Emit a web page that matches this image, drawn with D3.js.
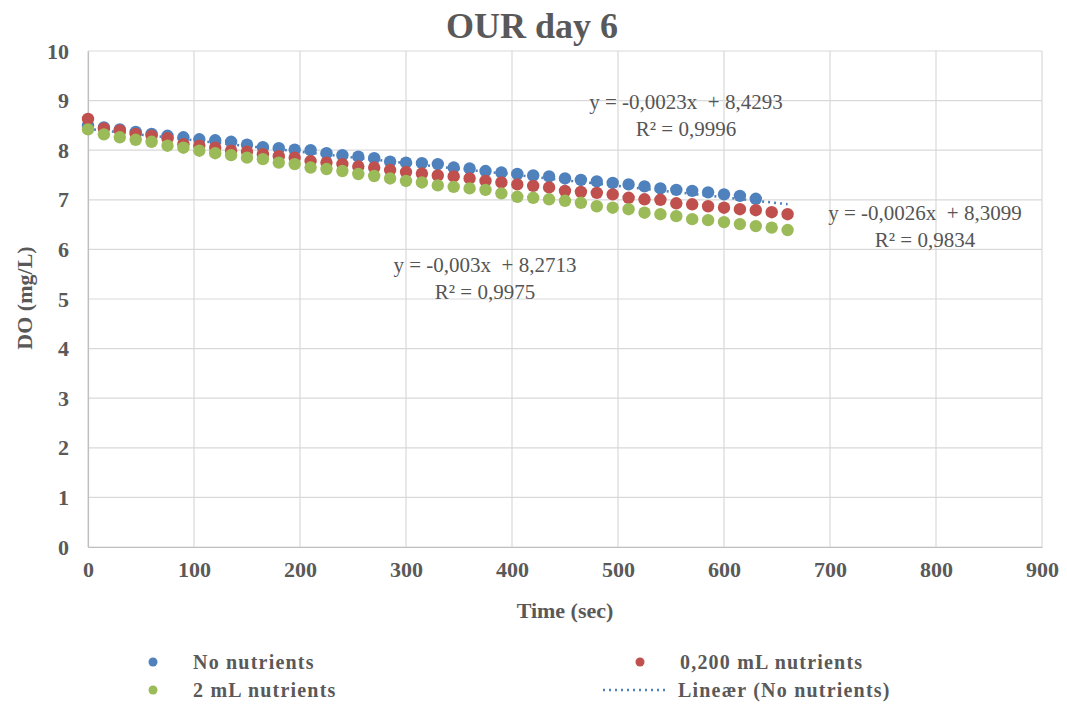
<!DOCTYPE html>
<html>
<head>
<meta charset="utf-8">
<script src="https://cdn.jsdelivr.net/npm/d3@7"></script>
<style>
  body { margin: 0; background: #fff; }
  #chart text { font-family: "Liberation Serif", "Times New Roman", serif; }
</style>
</head>
<body>
<div id="chart"></div>
<script>
// Time in seconds, one reading every 15 s
const timeNoNutrients = d3.range(0, 631, 15);
const timeOthers = d3.range(0, 661, 15);

const noNutrients = [8.50, 8.46, 8.42, 8.37, 8.33, 8.29, 8.26, 8.22, 8.20, 8.17, 8.11, 8.06, 8.04, 8.01, 8.00,
  7.94, 7.90, 7.87, 7.84, 7.77, 7.75, 7.74, 7.72, 7.65, 7.63, 7.58, 7.55, 7.52, 7.49, 7.47,
  7.43, 7.40, 7.37, 7.34, 7.31, 7.27, 7.23, 7.20, 7.18, 7.15, 7.11, 7.08, 7.02];

const nutrients0200 = [8.63, 8.44, 8.40, 8.33, 8.29, 8.24, 8.12, 8.09, 8.05, 7.99, 7.97, 7.92, 7.88, 7.85, 7.78,
  7.75, 7.72, 7.67, 7.65, 7.60, 7.56, 7.53, 7.49, 7.47, 7.43, 7.38, 7.35, 7.31, 7.28, 7.25,
  7.18, 7.16, 7.14, 7.11, 7.04, 7.01, 7.00, 6.93, 6.91, 6.87, 6.84, 6.81, 6.79, 6.75, 6.71];

const nutrients2 = [8.42, 8.32, 8.26, 8.21, 8.17, 8.09, 8.05, 7.99, 7.94, 7.90, 7.85, 7.82, 7.75, 7.72, 7.65,
  7.62, 7.58, 7.52, 7.48, 7.43, 7.38, 7.35, 7.29, 7.26, 7.23, 7.20, 7.13, 7.06, 7.04, 7.01,
  6.98, 6.94, 6.87, 6.84, 6.81, 6.74, 6.71, 6.67, 6.61, 6.59, 6.55, 6.51, 6.47, 6.44, 6.39];

// Linear trendline for "No nutrients"
const trendSlope = -0.0023;
const trendIntercept = 8.4293;
const trendRange = [0, 660];

const xTicks = d3.range(0, 901, 100);
const yTicks = d3.range(0, 11, 1);

const seriesNames = ['No nutrients', '0,200 mL nutrients', '2 mL nutrients'];
const trendName = 'Lineær (No nutrients)';
const equations = [
  ['y = -0,0023x  + 8,4293', 'R² = 0,9996'],
  ['y = -0,0026x  + 8,3099', 'R² = 0,9834'],
  ['y = -0,003x  + 8,2713', 'R² = 0,9975']
];

const width = 1067, height = 706;
const margin = { top: 51, right: 25, bottom: 159, left: 88 };
const colors = ['#4F81BD', '#C0504D', '#9BBB59'];
const textColor = '#595959';

const svg = d3.select('#chart').append('svg')
  .attr('width', width)
  .attr('height', height);

const x = d3.scaleLinear().domain([0, 900]).range([margin.left, width - margin.right]);
const y = d3.scaleLinear().domain([0, 10]).range([height - margin.bottom, margin.top]);

// Gridlines
svg.append('g').selectAll('line.h').data(yTicks).join('line')
  .attr('x1', x(0)).attr('x2', x(900))
  .attr('y1', d => y(d)).attr('y2', d => y(d))
  .attr('stroke', '#d9d9d9').attr('stroke-width', 1.2);
svg.append('g').selectAll('line.v').data(xTicks).join('line')
  .attr('x1', d => x(d)).attr('x2', d => x(d))
  .attr('y1', y(0)).attr('y2', y(10))
  .attr('stroke', '#d9d9d9').attr('stroke-width', 1.2);

// Axes
const xAxis = svg.append('g')
  .attr('transform', `translate(0,${y(0)})`)
  .call(d3.axisBottom(x).tickValues(xTicks).tickSize(0).tickPadding(14));
const yAxis = svg.append('g')
  .attr('transform', `translate(${x(0)},0)`)
  .call(d3.axisLeft(y).tickValues(yTicks).tickSize(0).tickPadding(19));
[xAxis, yAxis].forEach(a => {
  a.select('.domain').attr('stroke', '#bfbfbf').attr('stroke-width', 1.2);
  a.selectAll('text')
    .attr('fill', textColor)
    .style('font-size', '22px')
    .style('font-weight', 'bold');
});

// Trendline (sits behind the markers)
const line = d3.line().x(d => x(d)).y(d => y(trendSlope * d + trendIntercept));
svg.append('path')
  .datum(trendRange)
  .attr('d', line)
  .attr('fill', 'none')
  .attr('stroke', colors[0])
  .attr('stroke-width', 2.5)
  .attr('stroke-dasharray', '2,4');

// Data points: blue, red, green (green on top)
const seriesData = [
  timeNoNutrients.map((t, i) => ({ t, v: noNutrients[i] })),
  timeOthers.map((t, i) => ({ t, v: nutrients0200[i] })),
  timeOthers.map((t, i) => ({ t, v: nutrients2[i] }))
];
seriesData.forEach((data, k) => {
  svg.append('g').selectAll('circle').data(data).join('circle')
    .attr('cx', d => x(d.t))
    .attr('cy', d => y(d.v))
    .attr('r', 6.2)
    .attr('fill', colors[k]);
});

// Trend equations
const eqPos = [[686, 109], [925, 220], [485, 272]];
equations.forEach((lines, k) => {
  lines.forEach((s, j) => {
    svg.append('text')
      .attr('x', eqPos[k][0])
      .attr('y', eqPos[k][1] + j * 27)
      .attr('text-anchor', 'middle')
      .attr('fill', '#555')
      .style('font-size', '21px')
      .style('white-space', 'pre')
      .text(s);
  });
});

// Title
svg.append('text')
  .attr('x', 532).attr('y', 38)
  .attr('text-anchor', 'middle')
  .attr('fill', textColor)
  .style('font-size', '36px')
  .style('font-weight', 'bold')
  .text('OUR day 6');

// Axis titles
svg.append('text')
  .attr('x', 565).attr('y', 618)
  .attr('text-anchor', 'middle')
  .attr('fill', textColor)
  .style('font-size', '22px')
  .style('font-weight', 'bold')
  .text('Time (sec)');

svg.append('text')
  .attr('transform', 'translate(32,298) rotate(-90)')
  .attr('text-anchor', 'middle')
  .attr('fill', textColor)
  .style('font-size', '22px')
  .style('font-weight', 'bold')
  .text('DO (mg/L)');

// Legend
const legendItems = [
  { name: seriesNames[0], color: colors[0], x: 153, y: 662, type: 'dot' },
  { name: seriesNames[1], color: colors[1], x: 640, y: 662, type: 'dot' },
  { name: seriesNames[2], color: colors[2], x: 153, y: 690, type: 'dot' },
  { name: trendName, color: colors[0], x: 634, y: 690, type: 'line' }
];
const legend = svg.append('g');
legendItems.forEach(item => {
  if (item.type === 'dot') {
    legend.append('circle')
      .attr('cx', item.x).attr('cy', item.y)
      .attr('r', 4.5)
      .attr('fill', item.color);
  } else {
    legend.append('line')
      .attr('x1', item.x - 31).attr('x2', item.x + 31)
      .attr('y1', item.y).attr('y2', item.y)
      .attr('stroke', item.color)
      .attr('stroke-width', 2.5)
      .attr('stroke-dasharray', '2,4');
  }
  legend.append('text')
    .attr('x', item.type === 'dot' ? item.x + 40 : item.x + 44)
    .attr('y', item.y + 7)
    .attr('fill', textColor)
    .style('font-size', '20px')
    .style('font-weight', 'bold')
    .style('letter-spacing', '1.2px')
    .text(item.name);
});
</script>
</body>
</html>
